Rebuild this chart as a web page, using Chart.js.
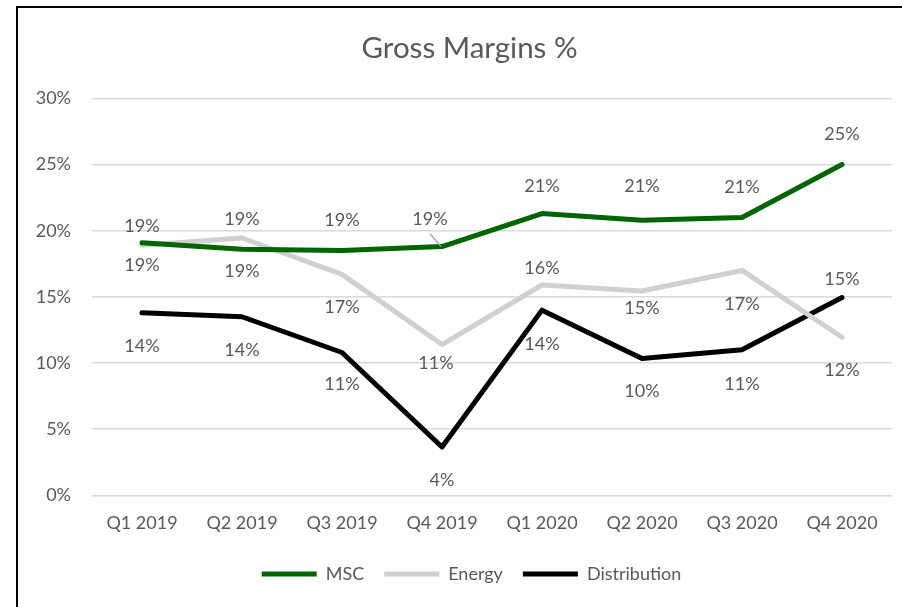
<!DOCTYPE html>
<html>
<head>
<meta charset="utf-8">
<title>Gross Margins %</title>
<script src="https://cdn.jsdelivr.net/npm/chart.js@4.4.0/dist/chart.umd.min.js"></script>
<style>
  html, body { margin: 0; padding: 0; background: #fff; }
  #wrap { width: 902px; height: 607px; position: relative; }
</style>
</head>
<body>
<div id="wrap"><canvas id="chart"></canvas></div>
<script>
// Chart data (percent)
const quarters = ["Q1 2019", "Q2 2019", "Q3 2019", "Q4 2019", "Q1 2020", "Q2 2020", "Q3 2020", "Q4 2020"];
const mscMargins = [19.1, 18.6, 18.5, 18.8, 21.3, 20.8, 21.0, 25.0];
const energyMargins = [18.9, 19.45, 16.7, 11.4, 15.9, 15.45, 17.0, 11.95];
const distributionMargins = [13.8, 13.5, 10.8, 3.66, 14.0, 10.35, 11.0, 14.95];
const yMin = 0;
const yMax = 30;
const yStep = 5;

const textColor = "#595959";
const fontFamily = "Lato, 'Open Sans', sans-serif";

// Label placement per dataset, [dx, dy] in pixels from each point
const labelOffsets = [
    [[0, -16], [0, -30], [0, -30], [-12, -27], [0, -27], [0, -34], [0, -30], [0, -30]],
    [[0, 20], [0, 33], [0, 33], [-6, 19], [0, -17], [0, 17], [0, 34], [0, 33]],
    [[0, 33], [0, 33], [0, 32], [0, 33], [0, 34], [0, 33], [0, 34], [0, -18]],
];

// Draws the outer frame (left and top edges only)
const framePlugin = {
    id: "frame",
    afterLayout(chart) {
        // nudge title and legend to the right, like the original
        chart.titleBlock.left += 15;
        chart.titleBlock.right += 15;
        chart.legend.left += 17;
        chart.legend.right += 17;
    },
    beforeDraw(chart) {
        const c = chart.ctx;
        c.save();
        c.fillStyle = "#fff";
        c.fillRect(0, 0, chart.width, chart.height);
        c.strokeStyle = "#000";
        c.lineWidth = 2;
        c.beginPath();
        c.moveTo(17, chart.height);
        c.lineTo(17, 7);
        c.lineTo(chart.width, 7);
        c.stroke();
        c.restore();
    }
};

// Draws value labels next to each point
const pointLabels = {
    id: "pointLabels",
    afterDatasetsDraw(chart, args, opts) {
        const c = chart.ctx;
        c.save();
        c.font = opts.font;
        c.fillStyle = opts.color;
        c.textAlign = "center";
        c.textBaseline = "middle";
        chart.data.datasets.forEach((ds, i) => {
            const meta = chart.getDatasetMeta(i);
            meta.data.forEach((pt, j) => {
                const off = opts.offsets[i][j];
                c.fillText(Math.round(ds.data[j]) + "%", pt.x + off[0], pt.y + off[1]);
            });
        });
        // leader line for the shifted MSC Q4 2019 label
        const pt = chart.getDatasetMeta(0).data[3];
        c.strokeStyle = "#a6a6a6";
        c.lineWidth = 1.5;
        c.beginPath();
        c.moveTo(pt.x - 12, pt.y - 13);
        c.lineTo(pt.x - 1, pt.y);
        c.stroke();
        c.restore();
    }
};

const lineStyle = {
    borderWidth: 5,
    pointRadius: 0,
    pointHoverRadius: 0,
    tension: 0,
    fill: false,
    borderCapStyle: "round",
    borderJoinStyle: "round",
};

const chart = new Chart(document.getElementById("chart"), {
    type: "line",
    data: {
        labels: quarters,
        datasets: [
            { label: "MSC", data: mscMargins, borderColor: "#006400", backgroundColor: "#006400", ...lineStyle },
            { label: "Energy", data: energyMargins, borderColor: "#d0d0d0", backgroundColor: "#d0d0d0", ...lineStyle },
            { label: "Distribution", data: distributionMargins, borderColor: "#000000", backgroundColor: "#000000", ...lineStyle },
        ],
    },
    options: {
        responsive: true,
        maintainAspectRatio: false,
        animation: false,
        layout: { padding: { left: 17, right: 10, top: 0, bottom: 14 } },
        scales: {
            x: {
                offset: true,
                grid: { display: false, drawTicks: false },
                border: { display: false },
                ticks: { color: textColor, font: { family: fontFamily, size: 18 }, padding: 17, maxRotation: 0 },
                afterFit(scale) { scale.height -= 6; },
            },
            y: {
                min: yMin,
                max: yMax,
                grid: { color: "#d9d9d9", lineWidth: 1.5, drawTicks: false },
                border: { display: false },
                ticks: {
                    stepSize: yStep,
                    color: textColor,
                    font: { family: fontFamily, size: 18 },
                    padding: 21,
                    callback: (v) => v + "%",
                },
                afterFit(scale) { scale.width = 75; },
            },
        },
        plugins: {
            title: {
                display: true,
                text: "Gross Margins %",
                color: textColor,
                font: { family: fontFamily, size: 29.5, weight: "normal" },
                padding: { top: 31, bottom: 32 },
            },
            legend: {
                position: "bottom",
                labels: {
                    usePointStyle: true,
                    pointStyle: "line",
                    pointStyleWidth: 55,
                    padding: 20,
                    color: textColor,
                    font: { family: fontFamily, size: 18 },
                },
            },
            tooltip: { enabled: false },
            pointLabels: {
                font: "18px " + fontFamily,
                color: textColor,
                offsets: labelOffsets,
            },
        },
    },
    plugins: [framePlugin, pointLabels],
});
</script>
</body>
</html>
